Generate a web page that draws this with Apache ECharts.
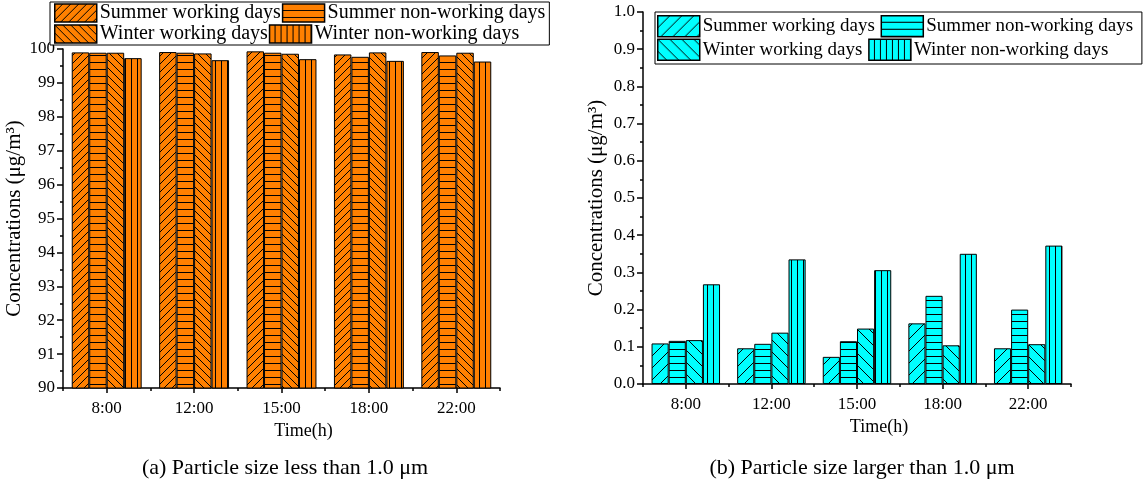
<!DOCTYPE html>
<html><head><meta charset="utf-8">
<script src="https://cdn.jsdelivr.net/npm/echarts@6/dist/echarts.min.js"></script>
<style>html,body{margin:0;padding:0;background:#fff}#c{width:1145px;height:488px}</style>
</head><body><div id="c"></div>
<script>
const categories = ['8:00','12:00','15:00','18:00','22:00'];
const seriesNames = ['Summer working days','Summer non-working days','Winter working days','Winter non-working days'];
// (a) particle size less than 1.0 μm
const smallSummerWorking    = [99.90, 99.91, 99.93, 99.84, 99.91];
const smallSummerNonWorking = [99.89, 99.89, 99.89, 99.77, 99.81];
const smallWinterWorking    = [99.89, 99.87, 99.86, 99.90, 99.89];
const smallWinterNonWorking = [99.73, 99.67, 99.70, 99.65, 99.63];
// (b) particle size larger than 1.0 μm
const largeSummerWorking    = [0.109, 0.096, 0.073, 0.163, 0.096];
const largeSummerNonWorking = [0.116, 0.108, 0.115, 0.237, 0.200];
const largeWinterWorking    = [0.118, 0.138, 0.149, 0.104, 0.107];
const largeWinterNonWorking = [0.268, 0.335, 0.306, 0.350, 0.372];
const titles = ['(a) Particle size less than 1.0 μm','(b) Particle size larger than 1.0 μm'];
const yName = 'Concentrations (μg/m³)';
const xName = 'Time(h)';

const FONT = '"Liberation Serif", "Times New Roman", serif';

function pattern(bg, kind, s) {
  const c = document.createElement('canvas');
  c.width = s; c.height = s;
  const g = c.getContext('2d');
  g.fillStyle = bg; g.fillRect(0,0,s,s);
  g.strokeStyle = '#000'; g.lineWidth = 1;
  g.beginPath();
  if (kind === 'fwd') { // "/"
    g.moveTo(0,s); g.lineTo(s,0);
    g.moveTo(-1,1); g.lineTo(1,-1);
    g.moveTo(s-1,s+1); g.lineTo(s+1,s-1);
  } else if (kind === 'back') { // "\"
    g.moveTo(0,0); g.lineTo(s,s);
    g.moveTo(s-1,-1); g.lineTo(s+1,1);
    g.moveTo(-1,s-1); g.lineTo(1,s+1);
  } else if (kind === 'h') {
    g.moveTo(0,s-0.5); g.lineTo(s,s-0.5);
  } else if (kind === 'v') {
    g.moveTo(s-0.5,0); g.lineTo(s-0.5,s);
  }
  g.stroke();
  return { image: c, repeat: 'repeat' };
}

const ORANGE = '#FF8000', CYAN = '#00FFFF';
const leftPats = [pattern(ORANGE,'fwd',8), pattern(ORANGE,'h',7), pattern(ORANGE,'back',8), pattern(ORANGE,'v',6)];
const rightPats = [pattern(CYAN,'fwd',12), pattern(CYAN,'h',7), pattern(CYAN,'back',12), pattern(CYAN,'v',6)];
const leftData = [smallSummerWorking, smallSummerNonWorking, smallWinterWorking, smallWinterNonWorking];
const rightData = [largeSummerWorking, largeSummerNonWorking, largeWinterWorking, largeWinterNonWorking];

const axisLine = { show: true, lineStyle: { color: '#000', width: 1.5 } };
const labelStyle = { color: '#000', fontFamily: FONT, fontSize: 17 };

function xAxes(gridIndex, gap) {
  return [
    { type: 'category', gridIndex, data: categories, position: 'bottom',
      axisLine, axisTick: { show: true, alignWithLabel: true, inside: false, length: 5, lineStyle: { color: '#000', width: 1.5 } },
      axisLabel: Object.assign({ margin: 12 }, labelStyle),
      name: xName, nameLocation: 'middle', nameGap: gap,
      nameTextStyle: { color: '#000', fontFamily: FONT, fontSize: 18, padding: [0,0,0,44] } },
    { type: 'category', gridIndex, data: categories, position: 'bottom',
      axisLine: { show: false }, axisTick: { show: true, inside: false, length: 3, lineStyle: { color: '#000', width: 1.5 } },
      axisLabel: { show: false } }
  ];
}

const series = [];
seriesNames.forEach((n, i) => {
  series.push({ type: 'bar', name: n, xAxisIndex: 0, yAxisIndex: 0, data: leftData[i],
    barGap: '0%', barCategoryGap: '20%', itemStyle: { color: leftPats[i], borderColor: '#000', borderWidth: 1 } });
});
seriesNames.forEach((n, i) => {
  series.push({ type: 'bar', name: n + ' ', xAxisIndex: 2, yAxisIndex: 1, data: rightData[i],
    barGap: '0%', barCategoryGap: '20%', itemStyle: { color: rightPats[i], borderColor: '#000', borderWidth: 1 } });
});

const legendCommon = {
  orient: 'horizontal', itemGap: 1, itemWidth: 42, itemHeight: 18,
  borderColor: '#000', borderWidth: 1, padding: [1, 4, 1, 4],
  backgroundColor: '#fff',
  icon: 'rect',
  itemStyle: { borderColor: '#000', borderWidth: 1.5 },
  textStyle: { color: '#000', fontFamily: FONT, fontSize: 20, padding: [0,0,0,-2] }
};

const chart = echarts.init(document.getElementById('c'), null, { renderer: 'canvas' });
chart.setOption({
  animation: false,
  grid: [
    { left: 63, top: 49, width: 437, height: 339 },
    { left: 643, top: 12, width: 428, height: 372 }
  ],
  legend: [
    Object.assign({}, legendCommon, { left: 50, top: 2, width: 540, data: seriesNames }),
    Object.assign({}, legendCommon, { left: 655, top: 12, width: 560, itemHeight: 21, itemGap: 1,
      padding: [3, 4, 3, 2], textStyle: Object.assign({}, legendCommon.textStyle, { fontSize: 19 }),
      data: seriesNames.map(n => n + ' ') })
  ],
  xAxis: xAxes(0, 27).concat(xAxes(1, 30)),
  yAxis: [
    { type: 'value', gridIndex: 0, min: 90, max: 100, interval: 1,
      axisLine, splitLine: { show: false },
      axisTick: { show: true, inside: false, length: 6, lineStyle: { color: '#000', width: 1.5 } },
      minorTick: { show: true, splitNumber: 2, length: 3, lineStyle: { color: '#000', width: 1.5 } },
      axisLabel: Object.assign({ margin: 8 }, labelStyle),
      name: yName, nameLocation: 'middle', nameGap: 38,
      nameTextStyle: { color: '#000', fontFamily: FONT, fontSize: 21 } },
    { type: 'value', gridIndex: 1, min: 0, max: 1, interval: 0.1,
      axisLine, splitLine: { show: false },
      axisTick: { show: true, inside: false, length: 6, lineStyle: { color: '#000', width: 1.5 } },
      minorTick: { show: true, splitNumber: 2, length: 3, lineStyle: { color: '#000', width: 1.5 } },
      axisLabel: Object.assign({ margin: 8, formatter: v => v.toFixed(1) }, labelStyle),
      name: yName, nameLocation: 'middle', nameGap: 36,
      nameTextStyle: { color: '#000', fontFamily: FONT, fontSize: 21 } }
  ],
  series,
  graphic: [
    { type: 'text', x: 285, y: 468, style: { text: titles[0], fontFamily: FONT, fontSize: 22, fill: '#000', align: 'center', verticalAlign: 'middle' } },
    { type: 'text', x: 862, y: 468, style: { text: titles[1], fontFamily: FONT, fontSize: 22, fill: '#000', align: 'center', verticalAlign: 'middle' } }
  ]
});
</script></body></html>
